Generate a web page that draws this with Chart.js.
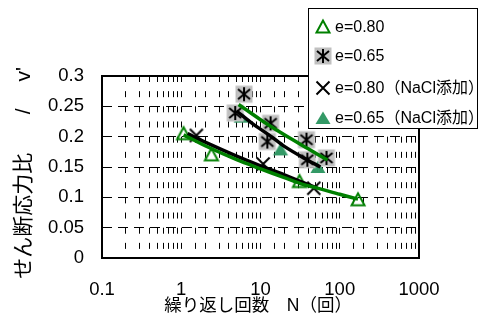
<!DOCTYPE html>
<html lang="ja">
<head>
  <meta charset="UTF-8">
  <title>せん断応力比と繰り返し回数</title>
  <script src="https://cdn.jsdelivr.net/npm/chart.js"></script>
  <style>
    * { margin:0; padding:0; box-sizing:border-box; }
    html,body { width:485px; height:327px; overflow:hidden; background:#fff; }
    #chart { display:block; }
  </style>
</head>
<body>
  <canvas id="chart" width="485" height="327"></canvas>

  <script>
    // --- data ---
    const xDecades = [0.1, 1, 10, 100, 1000];
    const xTickLabels = ['0.1', '1', '10', '100', '1000'];

    // e=0.80 (open triangles)
    const n080 = [1.07, 2.4, 31, 170];
    const r080 = [0.205, 0.170, 0.126, 0.096];
    // e=0.65 (asterisks)
    const n065 = [4.8, 6.2, 12.2, 13.4, 38, 39, 68];
    const r065 = [0.239, 0.270, 0.192, 0.222, 0.195, 0.162, 0.165];
    // e=0.80 NaCl (crosses)
    const n080s = [1.55, 10.8, 47];
    const r080s = [0.202, 0.155, 0.115];
    // e=0.65 NaCl (filled triangles)
    const n065s = [5.7, 17.9, 53];
    const r065s = [0.233, 0.179, 0.150];

    // trend lines as drawn in the picture
    const nTrendLowG = [1.07, 2, 5, 10, 20, 35, 50, 100, 170];
    const rTrendLowG = [0.203, 0.185, 0.162, 0.147, 0.1325, 0.121, 0.116, 0.105, 0.097];
    const nTrendLowK = [1.2, 2, 5, 10, 20, 52];
    const rTrendLowK = [0.205, 0.191, 0.168, 0.152, 0.137, 0.115];
    const nTrendUpK = [5, 8, 13.4, 20, 35, 57];
    const rTrendUpK = [0.242, 0.221, 0.201, 0.184, 0.165, 0.150];
    const nTrendUpG = [5.3, 10, 20, 40, 70];
    const rTrendUpG = [0.253, 0.228, 0.203, 0.180, 0.1615];

    const legendLabels = ['e=0.80', 'e=0.65', 'e=0.80（NaCl添加）', 'e=0.65（NaCl添加）'];

    const GREEN = '#008000';
    const TEAL = '#339966';
    const FONT = '"Liberation Sans", Arial, "Noto Sans CJK JP", sans-serif';

    function pts(xs, ys) { return xs.map((x, i) => ({ x: x, y: ys[i] })); }

    // marker images
    function marker(kind) {
      const c = document.createElement('canvas');
      c.width = 20; c.height = 20;
      const g = c.getContext('2d');
      g.lineWidth = 2;
      if (kind === 'triOpen') {
        g.strokeStyle = GREEN;
        g.beginPath(); g.moveTo(10, 3.5); g.lineTo(3.5, 15.5); g.lineTo(16.5, 15.5); g.closePath(); g.stroke();
      } else if (kind === 'star') {
        g.fillStyle = '#c0c0c0'; g.fillRect(1.5, 1.5, 17, 17);
        g.strokeStyle = '#000';
        g.beginPath();
        g.moveTo(10, 3); g.lineTo(10, 17);
        g.moveTo(4, 5); g.lineTo(16, 15);
        g.moveTo(16, 5); g.lineTo(4, 15);
        g.stroke();
      } else if (kind === 'cross') {
        g.strokeStyle = '#000';
        g.beginPath();
        g.moveTo(3.5, 3.5); g.lineTo(16.5, 16.5);
        g.moveTo(16.5, 3.5); g.lineTo(3.5, 16.5);
        g.stroke();
      } else {
        g.fillStyle = TEAL;
        g.beginPath(); g.moveTo(10, 3.5); g.lineTo(2.5, 16); g.lineTo(17.5, 16); g.closePath(); g.fill();
      }
      return c;
    }
    const mk = { triOpen: marker('triOpen'), star: marker('star'), cross: marker('cross'), triFill: marker('triFill') };
    const legendMarks = [mk.triOpen, mk.star, mk.cross, mk.triFill];

    function scatterSet(label, data, img) {
      return { label: label, data: data, pointStyle: img, pointRadius: 8, showLine: false, order: 2 };
    }
    function trendSet(data, color) {
      return { data: data, showLine: true, borderColor: color, borderWidth: 3.5, pointRadius: 0, tension: 0.3, fill: false, order: 1 };
    }

    // frame round the plot area
    const framePlugin = {
      id: 'frame',
      beforeDatasetsDraw(chart) {
        const a = chart.chartArea, ctx = chart.ctx;
        ctx.save();
        ctx.strokeStyle = '#000'; ctx.lineWidth = 2;
        ctx.strokeRect(a.left, a.top, a.right - a.left, a.bottom - a.top);
        ctx.restore();
      }
    };

    // legend box in the upper right
    const legendPlugin = {
      id: 'boxLegend',
      afterDraw(chart) {
        const ctx = chart.ctx;
        ctx.save();
        ctx.fillStyle = '#fff';
        ctx.fillRect(308, 8, 169, 120);
        ctx.strokeStyle = '#000'; ctx.lineWidth = 1;
        ctx.strokeRect(308.5, 8.5, 169, 120);
        const rows = [27, 56, 88, 118];
        ctx.font = '16px ' + FONT;
        ctx.fillStyle = '#000';
        ctx.textBaseline = 'middle';
        legendLabels.forEach((t, i) => {
          ctx.drawImage(legendMarks[i], 313, rows[i] - 10);
          ctx.fillText(t, 335, rows[i] + 1);
        });
        ctx.restore();
      }
    };

    new Chart(document.getElementById('chart'), {
      type: 'scatter',
      data: {
        datasets: [
          scatterSet(legendLabels[0], pts(n080, r080), mk.triOpen),
          scatterSet(legendLabels[1], pts(n065, r065), mk.star),
          scatterSet(legendLabels[2], pts(n080s, r080s), mk.cross),
          scatterSet(legendLabels[3], pts(n065s, r065s), mk.triFill),
          trendSet(pts(nTrendLowG, rTrendLowG), GREEN),
          trendSet(pts(nTrendLowK, rTrendLowK), '#000'),
          trendSet(pts(nTrendUpK, rTrendUpK), '#000'),
          trendSet(pts(nTrendUpG, rTrendUpG), GREEN)
        ]
      },
      options: {
        responsive: false,
        animation: false,
        devicePixelRatio: 1,
        layout: { padding: { left: 0, right: 66, top: 76, bottom: 0 } },
        plugins: { legend: { display: false }, tooltip: { enabled: false } },
        scales: {
          x: {
            type: 'logarithmic',
            min: 0.1, max: 1000,
            afterFit(s) { s.height = 69; },
            border: { display: false, dash: [6, 9.17] },
            grid: { color: '#000', lineWidth: 1, drawTicks: false },
            ticks: {
              autoSkip: false, maxRotation: 0, padding: 21,
              color: '#000', font: { family: FONT, size: 18.5 },
              callback(v) {
                const i = xDecades.findIndex(d => Math.abs(v / d - 1) < 1e-6);
                return i >= 0 ? xTickLabels[i] : '';
              }
            },
            title: {
              display: true, text: '繰り返し回数　N（回） ', color: '#000',
              font: { family: FONT, size: 17.5 }, padding: { top: 0, bottom: 10 }
            }
          },
          y: {
            min: 0, max: 0.3,
            afterFit(s) { s.width = 102; },
            border: { display: false, dash: [10, 6] },
            grid: { color: '#000', lineWidth: 1, drawTicks: false },
            ticks: {
              stepSize: 0.05, padding: 18,
              color: '#000', font: { family: FONT, size: 18.5 },
              callback(v) { return String(Math.round(v * 100) / 100); }
            },
            title: {
              display: true, text: 'せん断応力比　   /　 v\'  ', color: '#000',
              font: { family: FONT, size: 21 }, padding: { top: 12, bottom: 0 }
            }
          }
        }
      },
      plugins: [framePlugin, legendPlugin]
    });
  </script>
</body>
</html>
